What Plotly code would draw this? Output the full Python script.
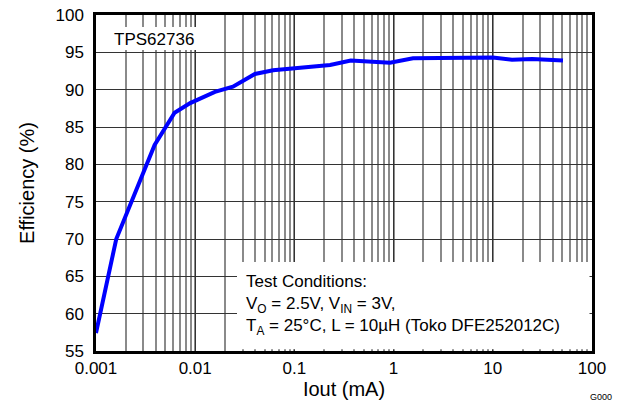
import plotly.graph_objects as go

# Data
iout_ma = [0.001, 0.0016, 0.0039, 0.0062, 0.0089, 0.0158, 0.024, 0.040, 0.061,
           0.097, 0.229, 0.37, 0.92, 1.57, 3.7, 10, 15.6, 25, 51]
efficiency = [57.4, 70.0, 82.6, 86.9, 88.2, 89.7, 90.4, 92.1, 92.6,
              92.8, 93.3, 93.9, 93.6, 94.2, 94.2, 94.3, 94.0, 94.1, 93.9]

x_tickvals = [0.001, 0.01, 0.1, 1, 10, 100]
x_ticktext = ["0.001", "0.01", "0.1", "1", "10", "100"]
y_tickvals = [55, 60, 65, 70, 75, 80, 85, 90, 95, 100]

FONT = "Liberation Sans, Arial, sans-serif"
FS = 17

# page body has an 8px margin, so the figure is 8px smaller and shifted
OFF = 8

fig = go.Figure()
fig.add_trace(go.Scatter(x=iout_ma, y=efficiency, mode="lines",
                         line=dict(color="#0000FF", width=4), showlegend=False))

fig.update_layout(
    width=621 - OFF, height=406 - OFF,
    margin=dict(l=96 - OFF, r=29, t=15 - OFF, b=55, autoexpand=False),
    paper_bgcolor="white", plot_bgcolor="white",
    font=dict(family=FONT, size=FS, color="black"),
    xaxis=dict(
        type="log", range=[-3, 2], automargin=False, ticklabeloverflow="allow",
        tickvals=x_tickvals, ticktext=x_ticktext,
        showgrid=True, gridcolor="#333333", gridwidth=1,
        minor=dict(showgrid=True, dtick="D1", gridcolor="#8a8a8a", gridwidth=1.5),
        showline=True, linecolor="black", linewidth=2.5, mirror=True,
        ticks="", zeroline=False,
        title=dict(text="Iout (mA)", standoff=4),
    ),
    yaxis=dict(
        range=[55, 100], tickvals=y_tickvals, automargin=False, ticklabeloverflow="allow",
        showgrid=True, gridcolor="#333333", gridwidth=1,
        showline=True, linecolor="black", linewidth=2.5, mirror=True,
        ticks="outside", ticklen=6, tickcolor="rgba(0,0,0,0)", zeroline=False,
        title=dict(text="Efficiency (%)", standoff=16),
    ),
)

# White boxes behind the labels (cover gridlines)
fig.add_shape(type="rect", xref="paper", yref="paper", layer="above",
              x0=0.004, x1=0.21, y0=(351-50)/336, y1=(351-27)/336,
              fillcolor="white", line=dict(width=0))
fig.add_shape(type="rect", xref="paper", yref="paper", layer="above",
              x0=(237-96)/496, x1=0.995, y0=0.005, y1=(351-262)/336,
              fillcolor="white", line=dict(width=0))

fig.add_annotation(xref="paper", yref="paper", x=(112-96)/496, y=(351-40)/336,
                   text="TPS62736", showarrow=False, xanchor="left", yanchor="middle",
                   font=dict(size=FS))
fig.add_annotation(xref="paper", yref="paper", x=(244-96)/496, y=(351-305)/336,
                   text="Test Conditions:<br>V<sub>O</sub> = 2.5V, V<sub>IN</sub> = 3V,<br>"
                        "T<sub>A</sub> = 25°C, L = 10µH (Toko DFE252012C)",
                   showarrow=False, xanchor="left", yanchor="middle", align="left",
                   font=dict(size=FS))
fig.add_annotation(xref="paper", yref="paper", x=(614-96)/496, y=(351-397)/336,
                   text="G000", showarrow=False, xanchor="right", yanchor="middle",
                   font=dict(size=9))

fig.write_html("out.html")
